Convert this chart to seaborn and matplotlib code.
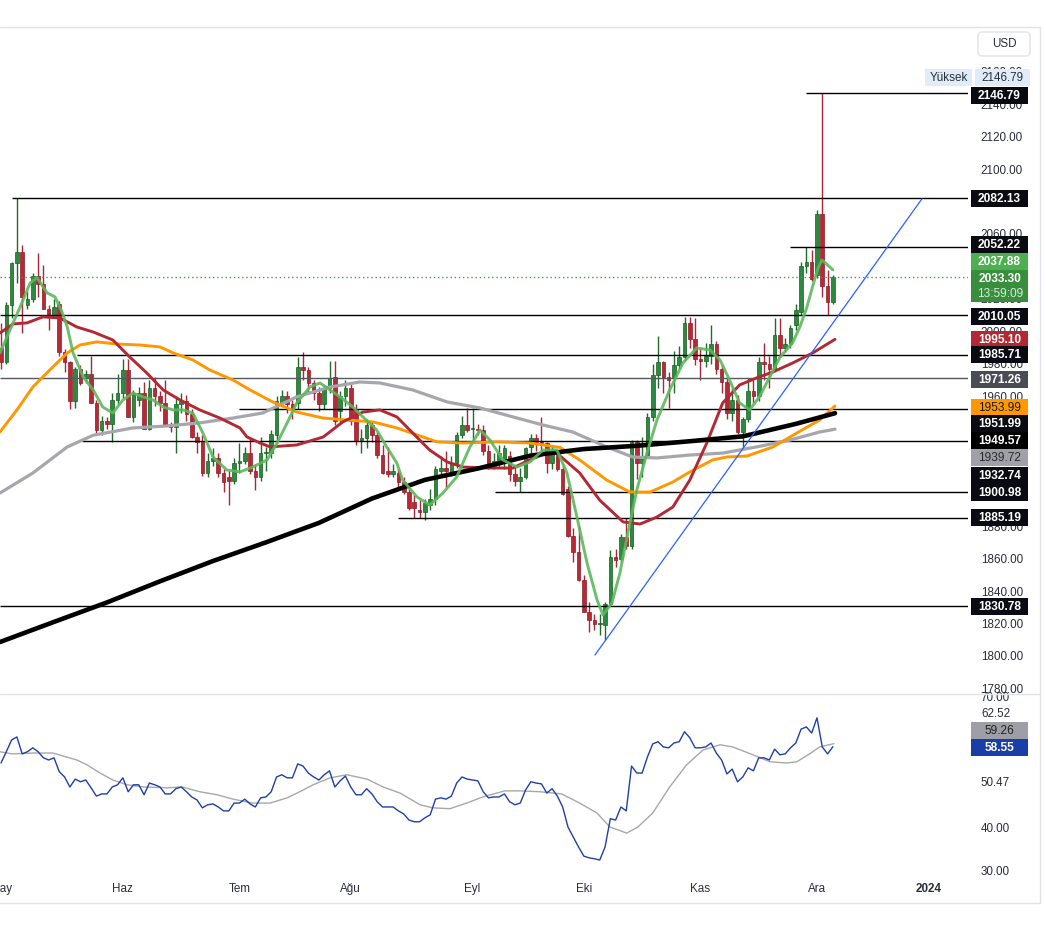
import numpy as np
import pandas as pd
import matplotlib
matplotlib.use("Agg")
import matplotlib.pyplot as plt
import matplotlib.transforms as mtransforms
from matplotlib.patches import Rectangle, FancyBboxPatch
from matplotlib.lines import Line2D
import seaborn as sns

# ─────────────────────────────────────────
# Data (XAU/USD daily, 1 May - 6 Dec 2023)
# ─────────────────────────────────────────
days = pd.bdate_range("2023-05-01", "2023-12-06")

opens = [1990, 1981, 2016, 2042, 2049, 2016, 2020, 2034, 2029, 2014, 2009, 2017, 1987, 1981, 1957, 1977, 1971, 1974, 1956, 1939, 1945, 1943, 1958,
         1962, 1976, 1947, 1958, 1962, 1940, 1965, 1960, 1956, 1943, 1941, 1955, 1957, 1949, 1935, 1932, 1913, 1920, 1922, 1913, 1910, 1908,
         1919, 1920, 1925, 1914, 1910, 1925, 1925, 1936, 1956, 1960, 1955, 1956, 1978, 1976, 1968, 1962, 1955, 1965, 1972, 1951, 1960,
         1965, 1952, 1933, 1934, 1942, 1936, 1924, 1914, 1912, 1913, 1907, 1901, 1895, 1890, 1889, 1893, 1897, 1914, 1916, 1913, 1919, 1936, 1942,
         1940, 1940, 1939, 1926, 1917, 1920, 1920, 1923, 1912, 1908, 1910, 1929, 1934, 1932, 1931, 1919, 1925, 1915, 1903, 1874, 1864,
         1847, 1827, 1822, 1820, 1819, 1832, 1861, 1860, 1873, 1868, 1932, 1919, 1923, 1947, 1973, 1981, 1972, 1971, 1979, 1984, 2005, 1995,
         1983, 1982, 1985, 1992, 1977, 1969, 1950, 1958, 1938, 1946, 1963, 1960, 1981, 1980, 1977, 1998, 1990, 1992, 2004, 2012, 2040, 2043,
         2035, 2072, 2028, 2018]
highs = [2005, 2018, 2043, 2082.13, 2053, 2025, 2036, 2048, 2041, 2016, 2020, 2019, 1989, 1982, 1978, 1979, 1976, 1985, 1958, 1948, 1947, 1962, 1974,
         1983, 1983, 1964, 1966, 1969, 1970, 1972, 1963, 1970, 1944, 1960, 1962, 1961, 1952, 1938, 1936, 1925, 1928, 1925, 1915, 1914, 1922,
         1931, 1929, 1935, 1918, 1935, 1929, 1939, 1960, 1964, 1963, 1958, 1984, 1987, 1978, 1970, 1966, 1967, 1982, 1982, 1963, 1970,
         1968, 1955, 1940, 1946, 1944, 1938, 1930, 1929, 1918, 1915, 1910, 1904, 1899, 1896, 1897, 1903, 1917, 1923, 1926, 1923, 1938, 1948, 1953,
         1953, 1943, 1942, 1930, 1925, 1930, 1930, 1926, 1917, 1916, 1929, 1937, 1937, 1947, 1932, 1930, 1926, 1917, 1905, 1879, 1880,
         1850, 1833, 1826, 1826, 1833, 1865, 1866, 1875, 1885, 1933, 1933, 1935, 1950, 1980, 1997, 1982, 1975, 1988, 1991, 2009, 2009, 2008,
         1990, 1993, 2004, 1994, 1979, 1972, 1965, 1961, 1947, 1971, 1970, 1984, 1993, 1985, 2008, 2008, 1996, 2004, 2017, 2043, 2052.22, 2050,
         2075, 2146.79, 2038, 2035]
lows = [1977, 1980, 2008, 2030, 1999, 2014, 2018, 2021, 2014, 2001, 2008, 1985, 1975, 1952, 1953, 1967, 1968, 1956, 1936, 1936, 1940, 1932, 1955,
        1959, 1947, 1944, 1954, 1940, 1939, 1954, 1951, 1942, 1938, 1925, 1950, 1945, 1934, 1925, 1911, 1910, 1917, 1910, 1901, 1893, 1906,
        1913, 1918, 1912, 1902, 1908, 1914, 1922, 1931, 1954, 1950, 1946, 1952, 1970, 1962, 1958, 1951, 1952, 1962, 1942, 1944, 1954,
        1942, 1930, 1925, 1928, 1932, 1922, 1912, 1910, 1910, 1904, 1900, 1890, 1885, 1885, 1884, 1890, 1893, 1911, 1904, 1911, 1916, 1934, 1938,
        1932, 1936, 1924, 1915, 1915, 1916, 1915, 1908, 1905, 1901, 1909, 1925, 1926, 1926, 1913, 1915, 1914, 1899, 1873, 1858, 1846,
        1827, 1815, 1816, 1813, 1810, 1831, 1855, 1858, 1866, 1866, 1909, 1910, 1922, 1945, 1965, 1962, 1953, 1962, 1977, 1982, 1990, 1979,
        1970, 1978, 1980, 1974, 1962, 1946, 1945, 1937, 1928, 1944, 1956, 1957, 1970, 1965, 1976, 1985, 1987, 1990, 2001, 2010, 2036, 2031,
        2033, 2021, 2010, 2017]
closes = [1981, 2016, 2042, 2049, 2021, 2020, 2034, 2029, 2014, 2010, 2015, 1987, 1981, 1957, 1977, 1968, 1974, 1956, 1939, 1945, 1943, 1958, 1962,
          1976, 1947, 1962, 1962, 1940, 1965, 1960, 1956, 1942, 1941, 1955, 1957, 1949, 1935, 1932, 1913, 1920, 1922, 1913, 1907, 1908, 1919,
          1920, 1925, 1914, 1910, 1925, 1925, 1937, 1957, 1960, 1955, 1952, 1978, 1976, 1968, 1962, 1955, 1965, 1971, 1945, 1960, 1965,
          1945, 1933, 1934, 1942, 1936, 1924, 1913, 1912, 1914, 1907, 1901, 1891, 1891, 1889, 1894, 1897, 1915, 1916, 1914, 1919, 1936, 1942, 1939,
          1940, 1939, 1926, 1917, 1920, 1925, 1928, 1912, 1908, 1910, 1928, 1934, 1932, 1931, 1919, 1925, 1915, 1900, 1874, 1864, 1847,
          1827, 1822, 1820, 1820, 1832, 1861, 1859, 1873, 1868, 1932, 1919, 1923, 1947, 1973, 1981, 1972, 1970, 1979, 1984, 2005, 1995, 1983,
          1982, 1985, 1992, 1977, 1969, 1950, 1958, 1938, 1946, 1963, 1960, 1981, 1980, 1977, 1998, 1990, 1992, 2002, 2013, 2040, 2043, 2032,
          2072, 2028, 2018, 2033.30]

# moving averages (bar index, value)
green_at = [-0.2, 1.7, 3.6, 5.5, 6.8, 8.7, 10.2, 11.5, 12.5, 13.6, 15.5, 17.4, 19.2, 21.1, 23.0, 24.9, 26.8, 28.7, 30.6, 32.5, 34.3, 36.2,
            38.1, 40.0, 42.6, 45.1, 47.5, 50.2, 52.1, 54.0, 55.8, 58.3, 60.2, 62.1, 64.0, 66.4, 68.3, 70.9, 72.8, 74.7, 75.8, 78.5, 80.9,
            83.4, 86.0, 88.5, 90.4, 92.3, 94.7, 97.4, 99.8, 102.3, 104.9, 106.8, 108.7, 110.6, 112.5, 113.6, 115.3, 116.8, 118.3, 120.0,
            121.9, 123.8, 126.2, 128.7, 131.3, 133.8, 135.7, 137.5, 139.4, 141.3, 143.2, 145.1, 147.0, 149.4, 150.8, 152.1, 153.2, 154.2,
            154.9, 155.8, 157.0]
green_val = [1986.7, 2000.9, 2015, 2029.8, 2033, 2023.7, 2021.2, 2012, 2002.7, 1986.7, 1972, 1963.9, 1953.4, 1949.7, 1957.7, 1962, 1959.6,
             1957.7, 1953.4, 1951.6, 1951.6, 1949.7, 1937.4, 1922.6, 1914.6, 1913.4, 1916.4, 1920.8, 1931.2, 1943.6, 1955.9, 1965.7, 1968.2,
             1963.9, 1959.6, 1953.4, 1947.3, 1939.2, 1928.8, 1918.9, 1908.4, 1898, 1893, 1900.4, 1910.3, 1928.8, 1939.2, 1933, 1920.8, 1916.4,
             1919.5, 1926.9, 1927, 1912.8, 1885.6, 1857.3, 1834.5, 1825.3, 1832.7, 1851.1, 1875.8, 1902.3, 1925, 1945.4, 1963.9, 1980.5,
             1989.8, 1988.5, 1982.4, 1970, 1955.9, 1951.6, 1960, 1972, 1984, 1993, 2003, 2015, 2028, 2039, 2044, 2041.5, 2037.88]

red_at = [-0.2, 2.3, 4.9, 7.9, 11.1, 14.3, 17.4, 21.1, 24.3, 27.5, 30.6, 33.8, 37.5, 41.3, 45.1, 46.4, 48.9, 50.8, 55.8, 60.8, 64.5, 68.3,
          71.5, 74.7, 77.7, 80.9, 84.2, 87.2, 92.3, 96.6, 99.8, 103.0, 104.9, 109.2, 113.0, 117.4, 120.6, 123.8, 126.8, 130.0, 133.2,
          136.2, 139.4, 142.6, 145.7, 149.4, 153.2, 157.4]
red_val = [1999, 2004.6, 2005.2, 2008.9, 2008.3, 2002.7, 1999.6, 1994.7, 1984.2, 1974.4, 1963.9, 1957.7, 1951.6, 1946.6, 1940.5, 1935,
           1931.2, 1928.8, 1930, 1934.9, 1944.2, 1950.3, 1951.6, 1947.3, 1937.4, 1926.9, 1919.5, 1916.4, 1915.8, 1915.8, 1920.8, 1925, 1925,
           1912.8, 1896, 1882.6, 1881.3, 1885.6, 1891.8, 1908.4, 1931.2, 1955.9, 1967, 1971.3, 1975, 1980.5, 1986.7, 1995.10]

orange_at = [-0.2, 3.0, 6.0, 9.2, 12.5, 14.9, 18.1, 21.9, 26.2, 30.0, 32.5, 36.2, 39.4, 43.8, 47.0, 51.3, 55.8, 60.8, 65.3, 70.2, 74.7,
             78.5, 82.3, 87.2, 93.6, 99.8, 105.5, 109.2, 114.3, 118.7, 122.5, 126.8, 130.0, 134.3, 137.0, 140.8, 145.7, 150.2, 154.5, 157.4]
orange_val = [1938, 1951.6, 1965.7, 1976.2, 1986.7, 1991.6, 1993.5, 1992.2, 1991.6, 1990.4, 1986.7, 1982.4, 1976.2, 1970, 1963.9, 1956.5,
              1950.3, 1946.6, 1945.4, 1944.2, 1940.5, 1936.2, 1931.9, 1931.2, 1931.9, 1931.2, 1928.5, 1920.8, 1908.4, 1901, 1901, 1907.2,
              1913.4, 1920.8, 1922.6, 1923.2, 1928.8, 1937.4, 1945.4, 1953.99]

gray_at = [-0.2, 6.0, 12.5, 17.4, 24.9, 31.3, 37.5, 43.8, 49.4, 55.8, 62.1, 67.7, 71.5, 77.7, 84.2, 90.4, 96.6, 102.3, 107.9, 114.3,
           119.2, 123.8, 130.0, 136.2, 142.6, 148.9, 154.5, 157.4]
gray_val = [1900.4, 1912.7, 1928.8, 1936, 1940.5, 1941.7, 1943.6, 1946.6, 1949.7, 1959.6, 1965.7, 1968.8, 1968.2, 1963.9, 1956.5, 1952.8,
            1947.3, 1942.3, 1938, 1928.8, 1922.6, 1922, 1923.8, 1925, 1928.8, 1933, 1938, 1939.72]

black_at = [-0.2, 10, 20, 30, 40, 50, 60, 70, 80, 90, 100, 110, 120, 130, 140, 150, 157.4]
black_val = [1808.6, 1821, 1833, 1846, 1858.5, 1870, 1882, 1897, 1908.5, 1915.5, 1923.5, 1927.5, 1929.5, 1932.3, 1935.3, 1943, 1949.57]

# RSI (one value per bar) and its moving average
rsi = [54.8, 57.4, 60.1, 60.8, 56.9, 57.4, 58.3, 57.4, 56.0, 55.5,
       56.0, 52.8, 51.6, 49.3, 51.1, 50.5, 50.9, 49.1, 47.2, 47.7,
       47.7, 49.3, 49.8, 51.4, 48.2, 49.8, 49.8, 47.5, 50.2, 49.8,
       49.3, 47.7, 47.7, 48.9, 49.3, 48.2, 47.0, 46.3, 44.5, 45.2,
       45.4, 44.7, 43.8, 43.8, 45.6, 45.6, 46.5, 45.4, 44.7, 46.8,
       47.0, 48.2, 51.6, 52.1, 51.4, 51.4, 54.6, 54.1, 52.5, 51.6,
       50.9, 52.1, 53.0, 49.3, 50.7, 51.8, 49.3, 47.5, 47.5, 48.9,
       47.7, 45.9, 44.7, 44.7, 44.7, 43.8, 43.1, 41.7, 41.3, 41.3,
       42.2, 42.9, 46.5, 46.8, 46.5, 47.2, 50.2, 51.6, 51.1, 50.9,
       50.7, 48.2, 46.8, 47.0, 47.0, 47.7, 45.9, 45.2, 45.6,
       48.6, 50.5, 50.2, 50.0, 47.9, 48.9, 47.2, 44.7, 40.1, 37.8,
       35.5, 33.4, 33.0, 32.8, 32.5, 35.5, 42.0, 41.7, 44.7, 43.8,
       54.1, 52.5, 52.5, 56.2, 59.2, 59.7, 58.5, 58.3, 59.4, 59.7,
       62.0, 60.6, 58.3, 58.3, 58.5, 59.4, 57.1, 55.5, 52.3, 53.4,
       50.5, 51.6, 53.7, 53.0, 56.0, 56.0, 55.5, 58.0, 56.7, 56.9,
       58.3, 59.4, 62.6, 63.1, 61.7, 65.2, 58.5, 56.9, 58.55]
rsi_ma_at = [-0.2, 2.1, 6.0, 9.8, 14.3, 16.2, 18.7, 21.1, 23.8, 26.8, 31.3, 34.2, 37.5, 40.8, 43.8, 47.5, 50.8, 54.0, 56.4, 58.9,
             62.1, 65.3, 69.1, 72.1, 75.3, 79.1, 81.5, 84.7, 87.9, 90.9, 95.1, 97.9, 101.7, 105.8, 109.2, 112.5, 114.9, 118.1, 120.2,
             123.0, 126.2, 129.4, 132.5, 135.7, 138.1, 141.9, 145.1, 148.3, 150.2, 152.6, 154.5, 157.2]
rsi_ma_val = [57.4, 56.9, 57.1, 57.1, 55.5, 54.4, 52.5, 50.9, 49.8, 49.3, 49.1, 49.3, 48.2, 47.5, 46.5, 45.6, 45.6, 46.8, 48.2, 49.8,
              51.4, 52.1, 51.1, 49.3, 47.9, 45.2, 44.5, 44.3, 45.6, 47.0, 48.4, 48.4, 48.2, 47.7, 45.6, 43.3, 40.1, 38.7, 40.1,
              43.3, 49.3, 54.4, 57.8, 59.0, 58.5, 56.7, 55.1, 54.8, 55.1, 56.9, 58.5, 59.26]

# drawn levels (value, first bar) and trend line
levels = [2146.79, 2082.13, 2052.22, 2010.05, 1985.71, 1971.26, 1951.99, 1932.74, 1900.98, 1885.19, 1830.78]
level_from = [152, 2, 149, -0.2, 14.3, -0.2, 45, 15.3, 93.2, 74.9, -0.2]
trend_at = [112.1, 173.8]
trend_val = [1800.6, 2081.6]
last_price = 2033.30
month_names = ["May", "Haz", "Tem", "Ağu", "Eyl", "Eki", "Kas", "Ara", "2024"]

# ─────────────────────────────────────────
# Figure
# ─────────────────────────────────────────
W, H = 1046, 939
sns.set_theme(style="white")
plt.rcParams["font.family"] = ["Liberation Sans", "DejaVu Sans"]

fig = plt.figure(figsize=(W / 100, H / 100), dpi=100)
fig.patch.set_facecolor("white")
ax = fig.add_axes([0, 1 - 693 / H, 968 / W, (693 - 27) / H])
axr = fig.add_axes([0, 1 - 877 / H, 968 / W, (877 - 693) / H])

xmin, xmax = -0.19, 182.5
TXT = "#2a2e39"
FS = 8.4

# candles
o = np.array(opens); h = np.array(highs); l = np.array(lows); c = np.array(closes)
idx = np.arange(len(days))
up = c >= o
ax.vlines(idx[up], l[up], h[up], color="#1e6b2a", lw=1, zorder=2)
ax.vlines(idx[~up], l[~up], h[~up], color="#a8283a", lw=1, zorder=2)
body = np.maximum(np.abs(c - o), 0.5)
ax.bar(idx[up], body[up], bottom=np.minimum(o, c)[up], width=0.68,
       color="#2b8a3e", edgecolor="#1b5e20", linewidth=0.5, zorder=2)
ax.bar(idx[~up], body[~up], bottom=np.minimum(o, c)[~up], width=0.68,
       color="#b82835", edgecolor="#8c1c27", linewidth=0.5, zorder=2)

# moving averages
sns.lineplot(x=gray_at, y=gray_val, ax=ax, color="#a6a6ae", linewidth=2.3, zorder=3)
sns.lineplot(x=orange_at, y=orange_val, ax=ax, color="#ff9800", linewidth=2.1, zorder=3)
sns.lineplot(x=red_at, y=red_val, ax=ax, color="#b22833", linewidth=2.1, zorder=3)
sns.lineplot(x=black_at, y=black_val, ax=ax, color="black", linewidth=3.3, zorder=3)
sns.lineplot(x=green_at, y=green_val, ax=ax, color="#5cb85c", linewidth=2.1, alpha=0.9, zorder=3)

# levels and trend line
for lv, start in zip(levels, level_from):
    col = "#55575f" if lv == 1971.26 else "black"
    ax.hlines(lv, start, xmax, color=col, lw=1, zorder=2.5)
sns.lineplot(x=trend_at, y=trend_val, ax=ax, color="#2962ff", linewidth=0.9, zorder=3)
ax.axhline(last_price, color="#43a047", lw=1, ls=(0, (1, 2)), zorder=2.5)

ax.set_xlim(xmin, xmax)
ax.set_ylim(1777.2, 2187.5)
ax.set_xticks([])
ax.set_yticks(np.arange(1780, 2161, 20))
ax.yaxis.tick_right()
ax.yaxis.set_major_formatter(matplotlib.ticker.FormatStrFormatter("%.2f"))
ax.tick_params(axis="y", length=0, pad=9.2, labelsize=FS, labelcolor=TXT)
ax.set_xlabel(""); ax.set_ylabel("")
for s in ax.spines.values():
    s.set_visible(False)

# RSI pane
sns.lineplot(x=rsi_ma_at, y=rsi_ma_val, ax=axr, color="#a8a8a8", linewidth=1.0)
sns.lineplot(x=idx, y=rsi, ax=axr, color="#1e40a8", linewidth=1.0)
axr.set_xlim(xmin, xmax)
axr.set_ylim(28.6, 70.9)
axr.set_yticks([30, 40, 50.47, 70])
axr.yaxis.tick_right()
axr.yaxis.set_major_formatter(matplotlib.ticker.FormatStrFormatter("%.2f"))
axr.tick_params(axis="y", length=0, pad=9.2, labelsize=FS, labelcolor=TXT)

month_pos = [i for i in range(len(days)) if i == 0 or days[i].month != days[i - 1].month]
month_pos.append(len(pd.bdate_range("2023-05-01", "2023-12-31")))
axr.set_xticks(month_pos)
axr.set_xticklabels(month_names)
axr.tick_params(axis="x", length=0, pad=4.5, labelsize=FS, labelcolor=TXT)
axr.get_xticklabels()[-1].set_fontweight("bold")
axr.set_xlabel(""); axr.set_ylabel("")
for s in axr.spines.values():
    s.set_visible(False)


# ─────────────────────────────────────────
# Price scale tags
# ─────────────────────────────────────────
def tag(a, y, text, face, fg="white", h_px=17, weight="bold", x_px=971, w_px=57, size=8.6):
    pos = a.get_position()
    y0, y1 = a.get_ylim()
    hh = h_px * (y1 - y0) / (pos.height * H)
    ax_w = pos.width * W
    tr = mtransforms.blended_transform_factory(a.transAxes, a.transData)
    a.add_patch(Rectangle((x_px / ax_w, y - hh / 2), w_px / ax_w, hh, transform=tr,
                          facecolor=face, edgecolor="none", clip_on=False, zorder=6))
    a.text((x_px + w_px / 2) / ax_w, y, text, transform=tr, ha="center", va="center",
           color=fg, fontsize=size, fontweight=weight, clip_on=False, zorder=7)


def py(px):
    # pixel row -> price on the main pane
    return 1800 + (656 - px) / 1.623


def ry(px):
    # pixel row -> RSI value
    return 30 + (871 - px) / 4.35


BLK = "#0a0a12"
tag(ax, py(78), "Yüksek", "#e1ecf9", fg=TXT, weight="normal", x_px=925, w_px=47, size=FS)
tag(ax, py(78), "2146.79", "#e1ecf9", fg=TXT, weight="normal", x_px=975, w_px=55, size=FS)
tag(ax, py(96), "2146.79", BLK)
tag(ax, py(199), "2082.13", BLK)
tag(ax, py(245), "2052.22", BLK)
tag(ax, py(262), "2037.88", "#4caf50")
tag(ax, py(286), "", "#388e3c", h_px=32)
tr_main = mtransforms.blended_transform_factory(ax.transAxes, ax.transData)
ax.text(1000 / 968, py(279), "2033.30", transform=tr_main,
        ha="center", va="center", color="white", fontsize=8.6, fontweight="bold", clip_on=False, zorder=7)
ax.text(1000 / 968, py(294), "13:59:09", transform=tr_main,
        ha="center", va="center", color="#d5ecd6", fontsize=8.6, clip_on=False, zorder=7)
tag(ax, py(317), "2010.05", BLK)
tag(ax, py(340), "1995.10", "#b22833")
tag(ax, py(355), "1985.71", BLK)
tag(ax, py(380), "1971.26", "#4a4c55")
tag(ax, py(408), "1953.99", "#ff9800", fg="#1a1a1a", weight="normal")
tag(ax, py(424), "1951.99", BLK)
tag(ax, py(441), "1949.57", "black")
tag(ax, py(458), "1939.72", "#a0a0a8", fg="#2a2a2a", weight="normal")
tag(ax, py(476), "1932.74", BLK)
tag(ax, py(493), "1900.98", BLK)
tag(ax, py(518), "1885.19", BLK)
tag(ax, py(607), "1830.78", BLK)

axr.text(981 / 968, ry(714), "62.52", transform=mtransforms.blended_transform_factory(axr.transAxes, axr.transData),
         ha="left", va="center", color=TXT, fontsize=FS, clip_on=False)
tag(axr, ry(731), "59.26", "#9e9ea6", fg="#222222", weight="normal")
tag(axr, ry(748), "58.55", "#1a3ea8")

# USD button
fig.add_artist(FancyBboxPatch((978 / W, 1 - 56 / H), 52 / W, 24 / H, boxstyle="round,pad=0,rounding_size=0.004",
                              transform=fig.transFigure, facecolor="white", edgecolor="#e0e3eb", lw=1))
fig.text(1004 / W, 1 - 44 / H, "USD", ha="center", va="center", fontsize=FS, color=TXT)

# pane borders
def fline(x0, y0, x1, y1):
    fig.add_artist(Line2D([x0 / W, x1 / W], [1 - y0 / H, 1 - y1 / H], color="#e0e3eb", lw=1,
                          transform=fig.transFigure))


fline(0, 27, 1040, 27)
fline(0, 693.5, 1040, 693.5)
fline(0, 903, 1040, 903)
fline(1040, 27, 1040, 903)

plt.savefig("out.png", dpi=100, facecolor="white")
